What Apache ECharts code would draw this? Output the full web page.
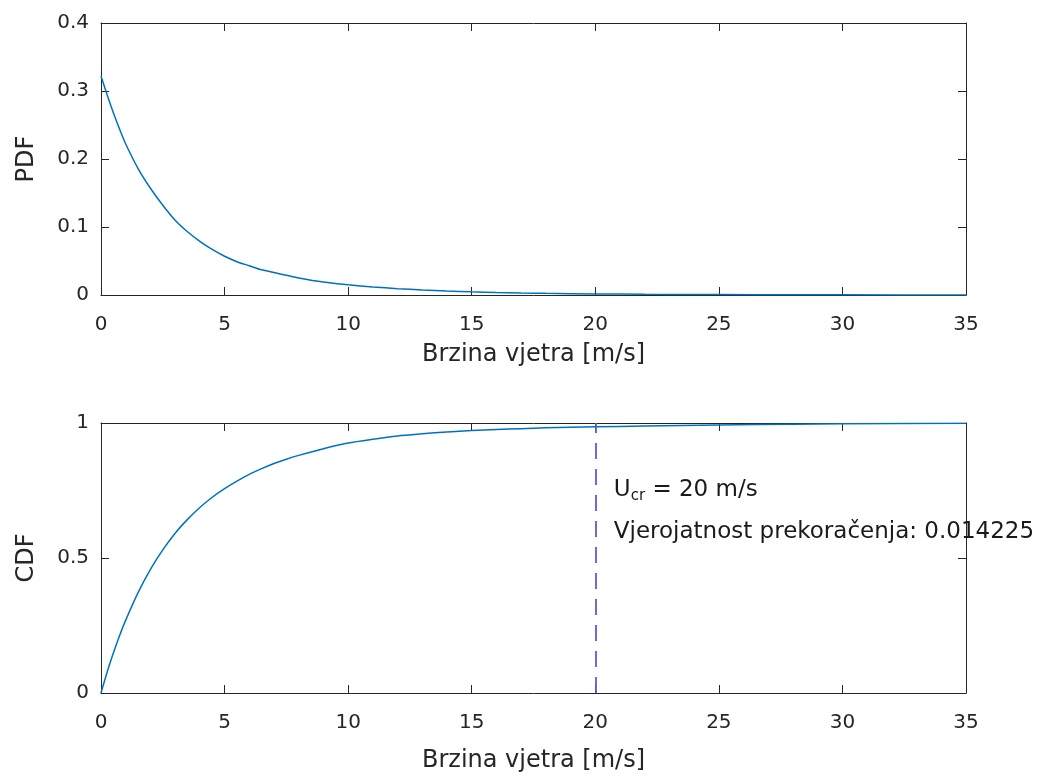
<!DOCTYPE html>
<html>
<head>
<meta charset="utf-8">
<script src="https://cdn.jsdelivr.net/npm/echarts@6/dist/echarts.min.js"></script>
<style>html,body{margin:0;padding:0;background:#fff}#c{width:1051px;height:778px}</style>
</head>
<body>
<div id="c"></div>
<script>
// Wind speed samples (m/s)
const speed = [0, 0.25, 0.5, 0.75, 1, 1.5, 2, 2.5, 3, 3.5, 4, 4.5, 5, 5.5, 6, 6.5, 7, 7.5, 8, 9, 10, 11, 12, 13, 14, 15, 16, 17, 18, 20, 22, 25, 28, 30, 35];
// PDF values
const pdf = [0.322, 0.294, 0.268, 0.244, 0.222, 0.186, 0.157, 0.132, 0.110, 0.093, 0.079, 0.067, 0.057, 0.049, 0.043, 0.037, 0.033, 0.029, 0.025, 0.019, 0.015, 0.0118, 0.0093, 0.0074, 0.0058, 0.0046, 0.0037, 0.0030, 0.0024, 0.0016, 0.0011, 0.0006, 0.0003, 0.0002, 0.00007];
// CDF values
const cdf = [0, 0.078, 0.148, 0.212, 0.270, 0.372, 0.458, 0.530, 0.592, 0.643, 0.687, 0.725, 0.757, 0.785, 0.810, 0.831, 0.850, 0.866, 0.880, 0.905, 0.926, 0.940, 0.952, 0.960, 0.967, 0.972, 0.976, 0.979, 0.982, 0.9858, 0.989, 0.993, 0.9955, 0.997, 0.999];
const xTicks = [0, 5, 10, 15, 20, 25, 30, 35];
const uCritical = 20;
const exceedance = '0.014225';
const annotation1 = [[20.75, 0.752]];
const annotation2 = [[20.75, 0.596]];

const axisColor = '#262626';
const FONT = 'DejaVu Sans';

function xAx(grid, pos, showLabel, nameGap) {
  return {
    type: 'value', gridIndex: grid, position: pos, min: 0, max: 35, interval: 5,
    axisLine: {show: true, onZero: false, lineStyle: {color: axisColor, width: 1}},
    axisTick: {show: true, inside: true, length: 8, lineStyle: {color: axisColor}},
    axisLabel: {show: showLabel, color: axisColor, fontFamily: FONT, fontSize: 20, margin: 20},
    splitLine: {show: false},
    name: showLabel ? 'Brzina vjetra [m/s]' : '',
    nameLocation: 'middle', nameGap: nameGap || 50,
    nameTextStyle: {color: axisColor, fontFamily: FONT, fontSize: 24}
  };
}
function yAx(grid, pos, showLabel, max, interval, name) {
  return {
    type: 'value', gridIndex: grid, position: pos, min: 0, max: max, interval: interval,
    axisLine: {show: true, onZero: false, lineStyle: {color: axisColor, width: 1}},
    axisTick: {show: true, inside: true, length: 8, lineStyle: {color: axisColor}},
    axisLabel: {show: showLabel, color: axisColor, fontFamily: FONT, fontSize: 20, margin: 12},
    splitLine: {show: false},
    name: showLabel ? name : '',
    nameLocation: 'middle', nameGap: 62, nameRotate: 90,
    nameTextStyle: {color: axisColor, fontFamily: FONT, fontSize: 24}
  };
}

const annText = {fontFamily: FONT, fontSize: 23, color: '#1a1a1a', opacity: 1, textBorderWidth: 0};

const chart = echarts.init(document.getElementById('c'), null, {renderer: 'canvas'});
chart.setOption({
  backgroundColor: '#ffffff',
  animation: false,
  grid: [
    {left: 101, top: 23, width: 865, height: 272, containLabel: false, outerBoundsMode: 'none'},
    {left: 101, top: 423, width: 865, height: 270, containLabel: false, outerBoundsMode: 'none'}
  ],
  xAxis: [xAx(0, 'bottom', true, 48), xAx(0, 'top', false), xAx(1, 'bottom', true, 56), xAx(1, 'top', false)],
  yAxis: [yAx(0, 'left', true, 0.4, 0.1, 'PDF'), yAx(0, 'right', false, 0.4, 0.1, ''),
          yAx(1, 'left', true, 1, 0.5, 'CDF'), yAx(1, 'right', false, 1, 0.5, '')],
  series: [
    {
      type: 'line', xAxisIndex: 0, yAxisIndex: 0, smooth: 0.25, showSymbol: false,
      data: speed.map((s, i) => [s, pdf[i]]),
      lineStyle: {color: '#0072BD', width: 1.5}, itemStyle: {color: '#0072BD'}
    },
    {
      type: 'line', xAxisIndex: 2, yAxisIndex: 2, smooth: 0.25, showSymbol: false,
      data: speed.map((s, i) => [s, cdf[i]]),
      lineStyle: {color: '#0072BD', width: 1.5}, itemStyle: {color: '#0072BD'},
      markLine: {
        silent: true, symbol: 'none', label: {show: false},
        lineStyle: {color: '#5b5bdc', width: 2, type: [16, 10], opacity: 0.9},
        data: [{xAxis: uCritical}]
      }
    },
    {
      type: 'scatter', xAxisIndex: 2, yAxisIndex: 2, symbolSize: 0, silent: true,
      itemStyle: {opacity: 1},
      data: annotation1,
      label: {
        show: true, position: 'right', distance: 0,
        formatter: '{u|U}{s|cr}{u| = ' + uCritical + ' m/s}',
        rich: {
          u: Object.assign({lineHeight: 28}, annText),
          s: Object.assign({}, annText, {fontSize: 15, lineHeight: 12, verticalAlign: 'bottom'})
        }
      }
    },
    {
      type: 'scatter', xAxisIndex: 2, yAxisIndex: 2, symbolSize: 0, silent: true,
      itemStyle: {opacity: 1},
      data: annotation2,
      label: Object.assign({
        show: true, position: 'right', distance: 0,
        formatter: 'Vjerojatnost prekoračenja: ' + exceedance
      }, annText)
    }
  ]
});
</script>
</body>
</html>
